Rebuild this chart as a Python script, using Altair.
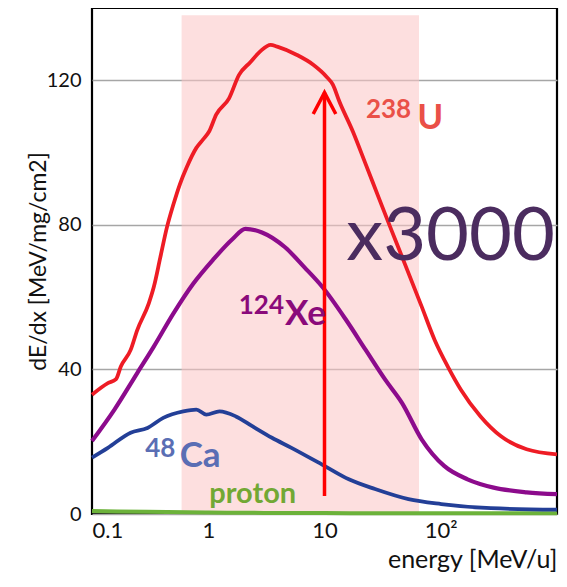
import altair as alt
import pandas as pd

# ---- data ----
energy_U = [0.1, 0.137, 0.161, 0.177, 0.215, 0.245, 0.308, 0.34, 0.387, 0.441, 0.502, 0.571,
            0.65, 0.79, 0.9, 1.02, 1.17, 1.51, 1.84, 2.3, 2.8, 3.44, 3.92, 5.8, 8.0, 10.4,
            11.8, 13.4, 17.5, 22.6, 29.2, 37.8, 49.1, 68.7, 88.8, 115, 149, 220, 330, 548, 1000]
dedx_U = [33.0, 36.2, 37.3, 40.8, 45.4, 50.9, 58.3, 62.8, 71.0, 79.3, 85.7, 91.3,
          95.8, 101.3, 103.6, 105.9, 110.5, 115.0, 121.5, 125.0, 128.0, 129.8, 129.3, 127.0, 124.3, 121.0,
          118.8, 114.2, 105.9, 96.8, 87.6, 78.4, 69.2, 57.3, 48.1, 40.8, 34.4, 27.0, 21.5, 17.9, 16.5]

energy_Xe = [0.1, 0.156, 0.245, 0.34, 0.502, 0.742, 1.09, 1.62, 2.09, 2.9, 4.58, 6.7, 9.6,
             15.4, 22.6, 33.4, 46.5, 68.7, 107, 170, 285, 548, 1000]
dedx_Xe = [20.2, 28.9, 39.0, 46.3, 55.5, 63.7, 70.2, 76.1, 78.9, 77.9, 73.8, 68.3, 62.8,
           53.6, 45.4, 37.1, 30.7, 20.6, 13.3, 9.6, 7.3, 6.0, 5.5]

energy_Ca = [0.1, 0.137, 0.215, 0.3, 0.41, 0.61, 0.79, 0.96, 1.25, 1.73, 2.39, 3.53, 5.2,
             10, 16.2, 27.2, 52.8, 101, 270, 1000]
dedx_Ca = [15.6, 18.3, 22.5, 23.8, 26.6, 28.4, 28.9, 27.5, 28.4, 27.0, 24.3, 21.1, 18.3,
           13.3, 9.6, 6.9, 4.1, 2.75, 1.6, 1.2]

energy_p = [0.1, 0.3, 1, 3, 10, 30, 100, 300, 1000]
dedx_p = [0.8, 0.6, 0.4, 0.3, 0.25, 0.2, 0.2, 0.2, 0.2]

band_energy = [0.59, 65]      # shaded energy range
band_dedx = [0, 138]
arrow_energy = 10
arrow_dedx = [5, 116.6]

x_ticks = [0.1, 1, 10, 100]
y_ticks = [0, 40, 80, 120]

# annotation texts and their anchor points (data coords)
ann_text = ["x3000", "238", "U", "124", "Xe", "48", "Ca", "proton"]
ann_x = [15.4, 22.7, 62.7, 1.83, 4.58, 0.287, 0.568, 1.02]
ann_y = [70.2, 109.5, 106.5, 55.3, 52.3, 15.7, 12.9, 3.0]

W, H = 465, 506


def xenc(field="x"):
    return alt.X(field, type="quantitative",
                 scale=alt.Scale(type="log", domain=[0.1, 1000]),
                 axis=alt.Axis(values=x_ticks,
                               labelExpr="datum.value >= 100 ? '10²' : format(datum.value, '~g')",
                               title="energy [MeV/u]", grid=False, domain=False, ticks=False,
                               labelFlush=True, labelFontSize=22, labelPadding=6,
                               labelColor="#111111",
                               titleFontSize=25, titleFontWeight="normal", titleColor="#111111",
                               titleX=W, titleY=53, titleAlign="right", titleBaseline="alphabetic"))


def yenc(field="y"):
    return alt.Y(field, type="quantitative",
                 scale=alt.Scale(domain=[0, 140], nice=False),
                 axis=alt.Axis(values=y_ticks, grid=True, gridColor="#a6a6a6", gridWidth=1.5,
                               domain=False, ticks=False, labelFontSize=20, labelPadding=11,
                               labelColor="#111111",
                               title="dE/dx [MeV/mg/cm2]", titleFontSize=23,
                               titleFontWeight="normal", titleColor="#111111",
                               titleX=-47, titleY=H / 2, titleAlign="center",
                               titleBaseline="alphabetic"))


band = alt.Chart(pd.DataFrame({"x": [band_energy[0]], "x2": [band_energy[1]],
                               "y": [band_dedx[0]], "y2": [band_dedx[1]]})).mark_rect(
    color="#fcc4c4", opacity=0.55).encode(x=xenc(), x2="x2", y=yenc(), y2="y2")


def curve(xs, ys, color, width=4):
    return alt.Chart(pd.DataFrame({"x": xs, "y": ys})).mark_line(
        color=color, strokeWidth=width, interpolate="monotone").encode(x=xenc(), y=yenc())


proton = curve(energy_p, dedx_p, "#6cb23a", 4)
ca = curve(energy_Ca, dedx_Ca, "#233f97", 3.8)
xe = curve(energy_Xe, dedx_Xe, "#8c0b8c", 4.2)
u = curve(energy_U, dedx_U, "#ee1c25", 3.8)

arrow_df = pd.DataFrame({"x": [arrow_energy], "y": [arrow_dedx[0]], "y2": [arrow_dedx[1]]})
shaft = alt.Chart(arrow_df).mark_rule(color="#ff0000", strokeWidth=3.5).encode(
    x=xenc(), y=yenc(), y2="y2")
head = alt.Chart(pd.DataFrame({"x": [arrow_energy], "y": [arrow_dedx[1]]})).mark_point(
    shape="M-1,1.9L0,0L1,1.9", size=511, filled=False, color="#ff0000", strokeWidth=3.5,
    opacity=1).encode(x=xenc(), y=yenc())

styles = {
    "x3000": dict(fontSize=74, fontWeight="normal", color="#4b2c5f"),
    "238": dict(fontSize=26, fontWeight="bold", color="#ea5048"),
    "U": dict(fontSize=35, fontWeight="bold", color="#ea5048"),
    "124": dict(fontSize=26, fontWeight="bold", color="#8a0a7a"),
    "Xe": dict(fontSize=35, fontWeight="bold", color="#8a0a7a"),
    "48": dict(fontSize=26, fontWeight="bold", color="#5a6eb4"),
    "Ca": dict(fontSize=35, fontWeight="bold", color="#5a6eb4"),
    "proton": dict(fontSize=29, fontWeight="bold", color="#72a834"),
}

texts = []
for t, xv, yv in zip(ann_text, ann_x, ann_y):
    texts.append(alt.Chart(pd.DataFrame({"x": [xv], "y": [yv], "t": [t]})).mark_text(
        align="left", baseline="alphabetic", font="Lato", **styles[t]).encode(
        x=xenc(), y=yenc(), text="t:N"))

chart = alt.layer(band, proton, ca, xe, u, shaft, head, *texts).properties(
    width=W, height=H,
    autosize=alt.AutoSizeParams(type="none"),
    padding={"left": 84, "top": 0, "right": 2, "bottom": 61},
).configure(font="Lato").configure_view(stroke="black", strokeWidth=2.2)

chart.save("out.html", embed_options={"renderer": "svg", "actions": False})
